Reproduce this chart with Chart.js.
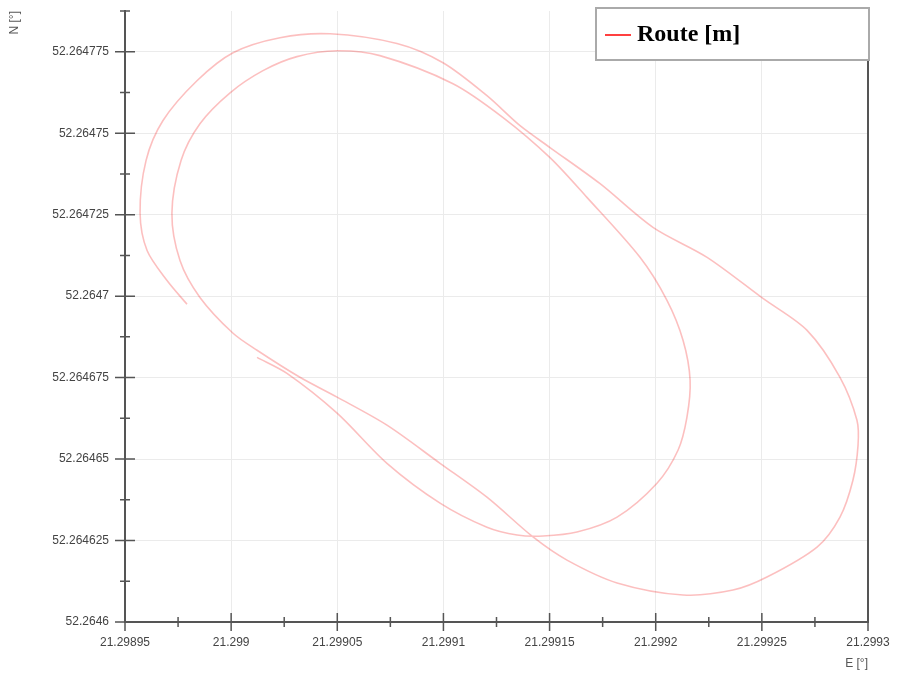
<!DOCTYPE html>
<html>
<head>
<meta charset="utf-8">
<script src="https://cdn.jsdelivr.net/npm/chart.js@4.4.0/dist/chart.umd.min.js"></script>
<style>
  html, body { margin: 0; padding: 0; background: #fff; }
  #wrap { width: 902px; height: 673px; position: relative; }
</style>
</head>
<body>
<div id="wrap"><canvas id="route"></canvas></div>
<script>
// axis ticks
const xTicks = [21.29895, 21.299, 21.29905, 21.2991, 21.29915, 21.2992, 21.29925, 21.2993];
const xLabels = ['21.29895', '21.299', '21.29905', '21.2991', '21.29915', '21.2992', '21.29925', '21.2993'];
const yTicks = [52.2646, 52.264625, 52.26465, 52.264675, 52.2647, 52.264725, 52.26475, 52.264775];
const yLabels = ['52.2646', '52.264625', '52.26465', '52.264675', '52.2647', '52.264725', '52.26475', '52.264775'];
const yMax = 52.2647875;

// route (E = longitude, N = latitude)
const routeE = [
  21.2990122, 21.2990263, 21.2990499, 21.2990734, 21.2990984, 21.2991205, 21.2991347, 21.2991469,
  21.2991629, 21.2991818, 21.2992006, 21.2992105, 21.2992147, 21.2992162, 21.2992129, 21.2992053,
  21.2991926, 21.2991676, 21.2991502, 21.2991281, 21.2991045, 21.2990701, 21.2990499, 21.2990310,
  21.2990150, 21.2989995, 21.2989853, 21.2989764, 21.2989721, 21.2989759, 21.2989853, 21.2990009,
  21.2990122, 21.2990324, 21.2990499, 21.2990734, 21.2990984, 21.2991205, 21.2991422, 21.2991582,
  21.2991818, 21.2992129, 21.2992364, 21.2992524, 21.2992760, 21.2992868, 21.2992929, 21.2992953,
  21.2992948, 21.2992868, 21.2992713, 21.2992505, 21.2992242, 21.2991987, 21.2991738, 21.2991502,
  21.2991361, 21.2991205, 21.2990998, 21.2990781, 21.2990466, 21.2990230, 21.2990009, 21.2989839,
  21.2989679, 21.2989599, 21.2989571, 21.2989604, 21.2989698, 21.2989792
];
const routeN = [
  52.2646812, 52.2646763, 52.2646641, 52.2646487, 52.2646365, 52.2646291, 52.2646267, 52.2646264,
  52.2646276, 52.2646322, 52.2646426, 52.2646527, 52.2646628, 52.2646742, 52.2646864, 52.2646987,
  52.2647119, 52.2647303, 52.2647425, 52.2647548, 52.2647652, 52.2647738, 52.2647753, 52.2647735,
  52.2647692, 52.2647624, 52.2647529, 52.2647416, 52.2647254, 52.2647109, 52.2646996, 52.2646886,
  52.2646834, 52.2646751, 52.2646690, 52.2646604, 52.2646487, 52.2646383, 52.2646261, 52.2646190,
  52.2646120, 52.2646083, 52.2646098, 52.2646138, 52.2646230, 52.2646322, 52.2646435, 52.2646542,
  52.2646619, 52.2646751, 52.2646895, 52.2646993, 52.2647119, 52.2647211, 52.2647345, 52.2647456,
  52.2647523, 52.2647615, 52.2647716, 52.2647775, 52.2647805, 52.2647793, 52.2647747, 52.2647661,
  52.2647539, 52.2647416, 52.2647254, 52.2647140, 52.2647048, 52.2646975
];

const axisColor = '#555';

// major ticks cross the axis, minor ticks halfway between
const tickMarks = {
  id: 'tickMarks',
  afterDraw(chart) {
    const ctx = chart.ctx, xs = chart.scales.x, ys = chart.scales.y;
    const area = chart.chartArea;
    ctx.save();
    ctx.strokeStyle = axisColor;
    ctx.lineWidth = 2;
    // right border
    ctx.beginPath();
    ctx.moveTo(area.right, area.top);
    ctx.lineTo(area.right, area.bottom);
    ctx.stroke();
    ctx.lineWidth = 1.5;
    const xMinor = [], yMinor = [];
    for (let i = 0; i < xTicks.length - 1; i++) xMinor.push((xTicks[i] + xTicks[i + 1]) / 2);
    for (let i = 0; i < yTicks.length - 1; i++) yMinor.push((yTicks[i] + yTicks[i + 1]) / 2);
    yMinor.push(yMax);
    ctx.beginPath();
    xTicks.forEach(v => { const p = xs.getPixelForValue(v); ctx.moveTo(p, area.bottom - 9); ctx.lineTo(p, area.bottom + 9); });
    xMinor.forEach(v => { const p = xs.getPixelForValue(v); ctx.moveTo(p, area.bottom - 5); ctx.lineTo(p, area.bottom + 5); });
    yTicks.forEach(v => { const p = ys.getPixelForValue(v); ctx.moveTo(area.left - 10, p); ctx.lineTo(area.left + 10, p); });
    yMinor.forEach(v => { const p = ys.getPixelForValue(v); ctx.moveTo(area.left - 5, p); ctx.lineTo(area.left + 5, p); });
    ctx.stroke();

    // legend box
    const bx = 596, by = 8, bw = 273, bh = 52;
    ctx.fillStyle = '#fff';
    ctx.fillRect(bx, by, bw, bh);
    ctx.strokeStyle = '#aaa';
    ctx.lineWidth = 2;
    ctx.strokeRect(bx, by, bw, bh);
    ctx.strokeStyle = '#ff0000';
    ctx.lineWidth = 1.5;
    ctx.beginPath();
    ctx.moveTo(605, 35);
    ctx.lineTo(631, 35);
    ctx.stroke();
    ctx.fillStyle = '#000';
    ctx.font = 'bold 24px "Liberation Serif", "Times New Roman", serif';
    ctx.textBaseline = 'middle';
    ctx.fillText(chart.data.datasets[0].label, 637, 35);
    ctx.restore();
  }
};

new Chart(document.getElementById('route'), {
  type: 'scatter',
  data: {
    datasets: [{
      label: 'Route [m]',
      data: routeE.map((e, i) => ({ x: e, y: routeN[i] })),
      showLine: true,
      borderColor: 'rgba(245, 0, 0, 0.25)',
      borderWidth: 1.6,
      pointRadius: 0,
      tension: 0.3,
      fill: false
    }]
  },
  options: {
    responsive: true,
    maintainAspectRatio: false,
    animation: false,
    layout: { padding: { top: 11, right: 34, left: 0, bottom: 0 } },
    plugins: { legend: { display: false }, tooltip: { enabled: false } },
    scales: {
      x: {
        type: 'linear',
        min: xTicks[0],
        max: xTicks[xTicks.length - 1],
        afterBuildTicks: s => { s.ticks = xTicks.map(v => ({ value: v })); },
        afterFit: s => { s.height = 51; s.paddingLeft = 0; s.paddingRight = 0; },
        ticks: {
          callback: (v, i) => xLabels[i],
          color: '#444',
          font: { family: '"Liberation Sans", Arial, sans-serif', size: 12 },
          padding: 13,
          maxRotation: 0
        },
        grid: { color: '#ebebeb', lineWidth: 1, drawTicks: false },
        border: { color: axisColor, width: 2 },
        title: {
          display: true, text: 'E [°]', align: 'end', color: '#555',
          font: { family: '"Liberation Sans", Arial, sans-serif', size: 12 },
          padding: { top: 0, bottom: 2 }
        }
      },
      y: {
        type: 'linear',
        min: yTicks[0],
        max: yMax,
        afterBuildTicks: s => { s.ticks = yTicks.map(v => ({ value: v })); },
        afterFit: s => { s.width = 125; s.paddingTop = 0; s.paddingBottom = 0; },
        ticks: {
          callback: (v, i) => yLabels[i],
          color: '#444',
          font: { family: '"Liberation Sans", Arial, sans-serif', size: 12 },
          padding: 16
        },
        grid: { color: '#ebebeb', lineWidth: 1, drawTicks: false },
        border: { color: axisColor, width: 2 },
        title: {
          display: true, text: 'N [°]', align: 'end', color: '#555',
          font: { family: '"Liberation Sans", Arial, sans-serif', size: 12 },
          padding: { top: 7, bottom: 0 }
        }
      }
    }
  },
  plugins: [tickMarks]
});
</script>
</body>
</html>
